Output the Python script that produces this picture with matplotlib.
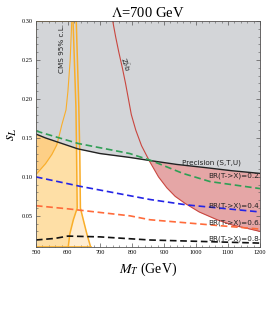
import numpy as np
import matplotlib
matplotlib.use("Agg")
import matplotlib.pyplot as plt
from matplotlib.ticker import MultipleLocator

plt.rcParams["mathtext.fontset"] = "stix"

# ---- data ----
# precision (S,T,U) bound
prec_M = [500, 530, 566, 631, 700, 793, 856, 940, 1028, 1110, 1200]
prec_s = [0.155, 0.150, 0.145, 0.136, 0.130, 0.125, 0.121, 0.116, 0.112, 0.108, 0.1045]

# Zbb bound (red)
zbb_s = [0.30, 0.28, 0.26, 0.24, 0.22, 0.20, 0.18, 0.16, 0.14, 0.12, 0.10,
         0.086, 0.075, 0.066, 0.055, 0.045, 0.038, 0.034, 0.030]
zbb_M = [740, 749, 759, 770, 780, 789, 798, 812, 830, 855, 883,
         909, 935, 966, 1010, 1066, 1115, 1159, 1200]

# CMS 95% c.L. thin curve
cms_thin_s = [0.103, 0.110, 0.117, 0.129, 0.141, 0.155, 0.167, 0.186, 0.21, 0.25, 0.30]
cms_thin_M = [500, 515, 530, 550, 565, 574, 581, 594, 600, 607, 612]

# CMS narrow band (thick pair of lines)
band_s = [0.30, 0.19, 0.13, 0.06, 0.045, 0.027, 0.01]
band_left = [616, 625, 627, 629, 617, 606, 601]
band_right = [626, 634, 637, 639, 648, 659, 671]

# BR(T->X) contours
br_labels = ["BR(T->X)=0.2", "BR(T->X)=0.4", "BR(T->X)=0.6", "BR(T->X)=0.8"]
br02_M = [500, 631, 793, 860, 959, 1044, 1200]
br02_s = [0.159, 0.143, 0.130, 0.121, 0.1045, 0.094, 0.085]
br04_M = [500, 637, 856, 972, 1200]
br04_s = [0.100, 0.088, 0.071, 0.064, 0.055]
br06_M = [500, 600, 794, 856, 1200]
br06_s = [0.063, 0.059, 0.050, 0.045, 0.033]
br08_M = [500, 559, 600, 700, 856, 1200]
br08_s = [0.019, 0.021, 0.024, 0.023, 0.019, 0.015]

xmin, xmax, ymin, ymax = 500, 1200, 0.01, 0.30

# ---- figure ----
fig = plt.figure(figsize=(2.7, 3.25), dpi=100)
ax = fig.add_axes([0.133, 0.24, 0.83, 0.695])

orange_lt = "#fedfa6"
orange_dk = "#fdcf86"
orange_pale = "#ffedd2"
orange_ln = "#f9ae2a"
gray = "#d3d5d8"
pink = "#e5a6a6"
red = "#c9463f"

# orange regions
ax.fill_betweenx(band_s, xmin, band_left, color=orange_lt, lw=0)
ax.fill_betweenx(cms_thin_s + [ymax], xmin, cms_thin_M + [cms_thin_M[-1]], color=orange_dk, lw=0)
ax.fill_betweenx(band_s, band_left, band_right, color=orange_pale, lw=0)

# Zbb excluded region
ax.fill_betweenx(zbb_s, zbb_M, xmax, color=pink, lw=0)

# precision excluded region
ax.fill_between(prec_M, prec_s, ymax, color=gray, lw=0)

# boundary lines
ax.plot(cms_thin_M, cms_thin_s, color=orange_ln, lw=0.8)
ax.plot(band_left, band_s, color=orange_ln, lw=1.1)
ax.plot(band_right, band_s, color=orange_ln, lw=1.1)
ax.plot([xmin, band_right[0]], [ymax, ymax], color=orange_ln, lw=1.2)
ax.plot([xmin, band_right[-1]], [ymin, ymin], color=orange_ln, lw=1.2)
ax.plot(zbb_M, zbb_s, color=red, lw=0.8)
ax.plot(prec_M, prec_s, color="#222222", lw=1.0)

dash = (0, (4, 2.2))
ax.plot(br02_M, br02_s, color="#2f9e55", lw=1.2, ls=dash)
ax.plot(br04_M, br04_s, color="#2424e6", lw=1.2, ls=dash)
ax.plot(br06_M, br06_s, color="#ff6b3b", lw=1.2, ls=dash)
ax.plot(br08_M, br08_s, color="#111111", lw=1.2, ls=dash)

# labels on the plot
lab_kw = dict(fontsize=5.2, family="DejaVu Sans", color="#222222", ha="center", va="center")
ax.text(1047, 0.1185, "Precision (S,T,U)", **lab_kw)
for lab, yv in zip(br_labels, [0.102, 0.063, 0.041, 0.020]):
    ax.text(1119, yv, lab, **lab_kw)
ax.text(581, 0.265, "CMS 95% c.L.", rotation=90, **lab_kw)
ax.text(779, 0.245, r"Z$\bar{b}$b", rotation=-72, **lab_kw)

# axes styling
ax.set_xlim(xmin, xmax)
ax.set_ylim(ymin, ymax)
ax.xaxis.set_major_locator(MultipleLocator(100))
ax.xaxis.set_minor_locator(MultipleLocator(20))
ax.yaxis.set_major_locator(MultipleLocator(0.05))
ax.yaxis.set_minor_locator(MultipleLocator(0.01))
ax.set_yticks([0.05, 0.10, 0.15, 0.20, 0.25, 0.30])
ax.set_yticklabels(["0.05", "0.10", "0.15", "0.20", "0.25", "0.30"])
ax.tick_params(which="both", direction="in", top=True, right=True, color="#555555",
               labelsize=4.5, pad=2)
ax.tick_params(which="major", length=3, width=0.5)
ax.tick_params(which="minor", length=1.6, width=0.4)
for lbl in ax.get_xticklabels() + ax.get_yticklabels():
    lbl.set_family("Liberation Serif")
for sp in ax.spines.values():
    sp.set_color("#555555")
    sp.set_linewidth(0.6)

ax.set_xlabel(r"$M_T$ (GeV)", family="Liberation Serif", fontsize=10, labelpad=4)
ax.set_ylabel(r"$s_L$", family="Liberation Serif", fontsize=11, labelpad=2)
ax.set_title(r"$\Lambda$=700 GeV", family="Liberation Serif", fontsize=10.5, pad=3)

fig.savefig("out.png", dpi=100)
